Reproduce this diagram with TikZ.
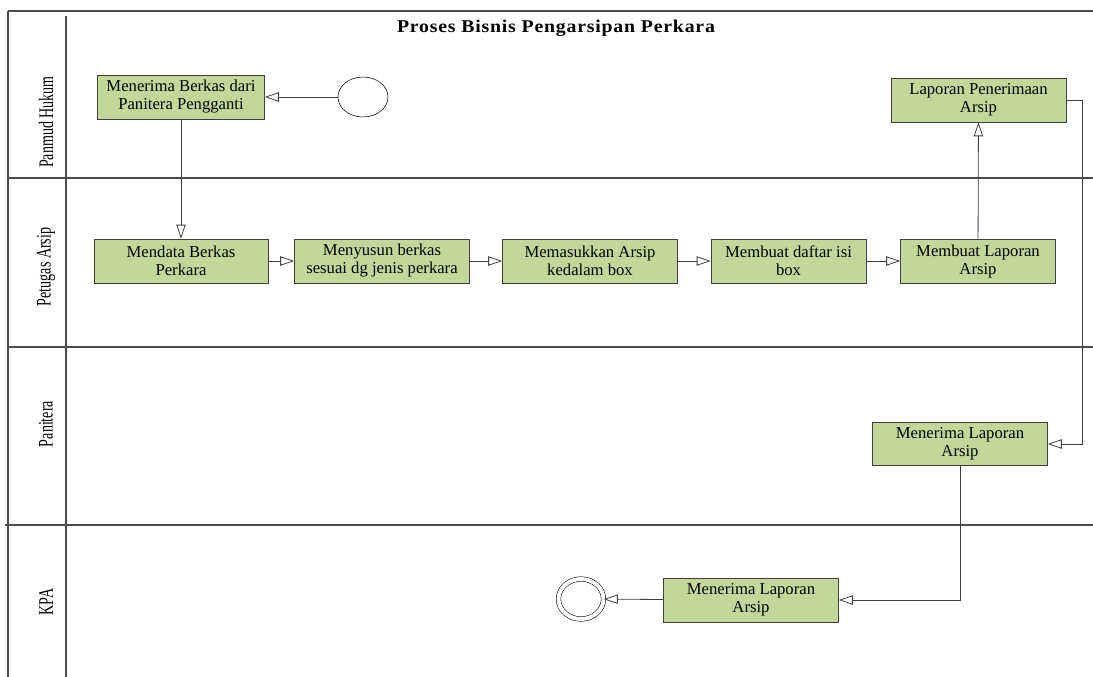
\documentclass[tikz,border=0pt]{standalone}
\usepackage{fontspec}
\setmainfont{Liberation Serif}
\usepackage{graphicx}
\usetikzlibrary{arrows.meta,shapes.geometric}
\definecolor{hijau}{HTML}{C4D79B}
\tikzset{kotak/.style = {draw = black!75, fill = hijau, align = center, inner sep = 1pt,
                         minimum height = 33pt, font = \fontsize{12.5}{13.5}\selectfont}}
\tikzset{flow/.style = {draw = black!75, line width = 0.6pt, -{Triangle[open, length = 10.5pt, width = 7pt]}}}
\tikzset{lane/.style = {draw = black!70, line width = 0.8pt}}
\tikzset{lajur/.style = {rotate = 90, inner sep = 0, font = \fontsize{15.5}{16}\selectfont}}

\begin{document}
\begin{tikzpicture}[x = 0.75pt, y = -0.75pt]
    \useasboundingbox (0,0) rectangle (1093,677);
    % kerangka lajur
    \draw [lane] (8,11) -- (1093,11);
    \draw [lane] (8,11) -- (8,677);
    \draw [lane] (66,16) -- (66,677);
    \draw [lane] (8,178) -- (1093,178);
    \draw [lane] (8,347) -- (1093,347);
    \draw [lane] (5,525) -- (1093,525);
    \node [anchor = base] (judul) at (556,33) {\scalebox{1.1}[1]{\addfontfeatures{LetterSpace=4}\fontsize{13.5}{14}\selectfont\bfseries Proses Bisnis Pengarsipan Perkara}};
    \node [lajur] (panmud) at (46,122) {\scalebox{0.68}[1]{Panmud Hukum}};
    \node [lajur] (petugas) at (46,267) {\scalebox{0.68}[1]{Petugas Arsip}};
    \node [lajur] (panitera) at (46,424) {\scalebox{0.68}[1]{Panitera}};
    \node [lajur] (kpa) at (46,602) {\scalebox{0.68}[1]{KPA}};
	% aktivitas
    \node [kotak, minimum width = 125.25pt] (terimaBerkas) at (181,97) {Menerima Berkas dari\\Panitera Pengganti};
    \node [draw, ellipse, minimum width = 37.5pt, minimum height = 30pt, inner sep = 0] (mulai) at (363,97) {};
    \node [kotak, minimum width = 131.25pt] (laporanTerima) at (978.5,100) {Laporan Penerimaan\\Arsip};
    \node [kotak, minimum width = 130.5pt] (mendata) at (181,261) {Mendata Berkas\\Perkara};
    \node [kotak, minimum width = 131.25pt] (menyusun) at (382,261) {Menyusun berkas\\sesuai dg jenis perkara};
    \node [kotak, minimum width = 131.25pt] (memasukkan) at (590,261) {Memasukkan Arsip\\kedalam box};
    \node [kotak, minimum width = 116.25pt] (daftarIsi) at (788.5,261) {Membuat daftar isi\\box};
    \node [kotak, minimum width = 116.25pt] (buatLaporan) at (978,261) {Membuat Laporan\\Arsip};
    \node [kotak, minimum width = 131.25pt, minimum height = 32pt] (terimaPanitera) at (960,444) {Menerima Laporan\\Arsip};
    \node [kotak, minimum width = 131.25pt] (terimaKPA) at (751,600) {Menerima Laporan\\Arsip};
    \node [draw, ellipse, double, double distance = 3pt, minimum width = 33.75pt, minimum height = 30pt, inner sep = 0] (selesai) at (581,599) {};
	% alur
    \draw [flow] (mulai) -- (terimaBerkas);
    \draw [flow] (terimaBerkas) -- (mendata);
    \draw [flow] (mendata) -- (menyusun);
    \draw [flow] (menyusun) -- (memasukkan);
    \draw [flow] (memasukkan) -- (daftarIsi);
    \draw [flow] (daftarIsi) -- (buatLaporan);
    \draw [flow] (buatLaporan) -- (laporanTerima);
    \draw [flow] (laporanTerima.east) -- ++(16,0) |- (terimaPanitera.east);
    \draw [flow] (terimaPanitera.south) |- (terimaKPA.east);
    \draw [flow] (terimaKPA) -- (selesai);
  \end{tikzpicture}
\end{document}
